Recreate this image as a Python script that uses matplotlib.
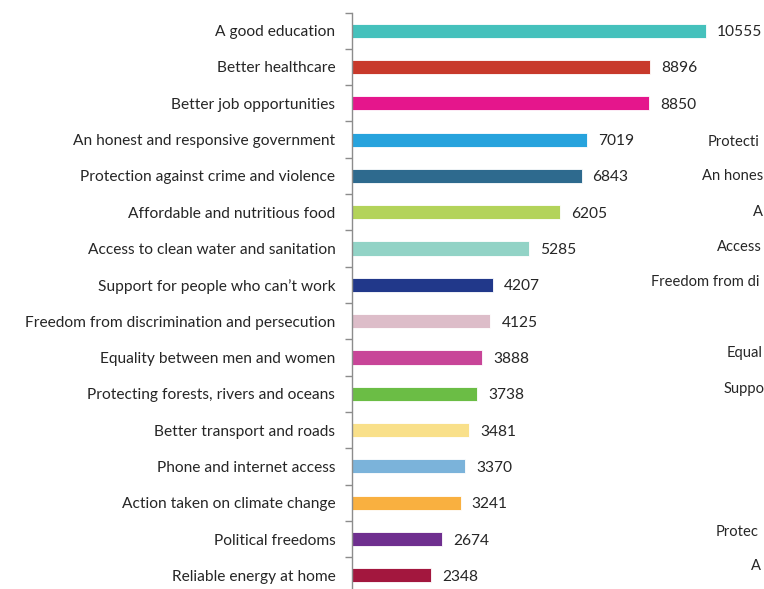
import matplotlib.pyplot as plt
import numpy as np

plt.rcParams['font.family'] = ['Lato', 'DejaVu Sans']

# data (top to bottom)
categories = [
    'A good education',
    'Better healthcare',
    'Better job opportunities',
    'An honest and responsive government',
    'Protection against crime and violence',
    'Affordable and nutritious food',
    'Access to clean water and sanitation',
    'Support for people who can\u2019t work',
    'Freedom from discrimination and persecution',
    'Equality between men and women',
    'Protecting forests, rivers and oceans',
    'Better transport and roads',
    'Phone and internet access',
    'Action taken on climate change',
    'Political freedoms',
    'Reliable energy at home',
]
votes = [10555, 8896, 8850, 7019, 6843, 6205, 5285, 4207,
         4125, 3888, 3738, 3481, 3370, 3241, 2674, 2348]
colors = ['#45C1BC', '#C8392B', '#E5168C', '#27A3DD', '#2E6A8E', '#B3D35A',
          '#92D3C6', '#21388A', '#DDBDC9', '#C84598', '#6BBD45', '#F9E08A',
          '#7BB3DA', '#F9B040', '#6F2F8F', '#A3173E']

# visible fragments of a neighbouring chart's labels, cut by the image edge
side_labels = ['Protecti', 'An hones', 'A', 'Access', 'Freedom from di',
               'Equal', 'Suppo', 'Protec', 'A']
side_x = [708, 702, 753, 717, 651, 727, 724, 716, 751]
side_y = [140, 174, 210, 246, 280, 352, 388, 530, 565]

W, H = 764, 589
fig = plt.figure(figsize=(W / 100, H / 100), dpi=100)
ax = fig.add_axes([352 / W, -4.5 / H, (W - 352) / W, (593.5 - 12.5) / H])

y = np.arange(len(categories))
ax.barh(y, votes, height=0.39, color=colors, edgecolor='white', linewidth=0.6)
ax.set_ylim(len(categories) - 0.5, -0.5)
ax.set_xlim(0, 12284)

ax.set_yticks(y)
ax.set_yticklabels(categories, fontsize=11.2, color='#262626')
ax.tick_params(axis='y', which='major', length=0, pad=12)
ax.set_yticks(np.arange(-0.5, len(categories)), minor=True)
ax.tick_params(axis='y', which='minor', length=5, width=1, color='#8C8C8C', direction='out')
ax.set_xticks([])

for s in ['top', 'right', 'bottom']:
    ax.spines[s].set_visible(False)
ax.spines['left'].set_color('#8C8C8C')
ax.spines['left'].set_linewidth(1)

for yi, v in zip(y, votes):
    ax.annotate(str(v), (v, yi), xytext=(8, 0), textcoords='offset points',
                va='center_baseline', ha='left', fontsize=11.2, color='#262626')

for lab, sx, sy in zip(side_labels, side_x, side_y):
    fig.text(sx / W, 1 - sy / H, lab, ha='left', va='center_baseline',
             fontsize=10.6, color='#262626')

fig.savefig('out.png', dpi=100)
